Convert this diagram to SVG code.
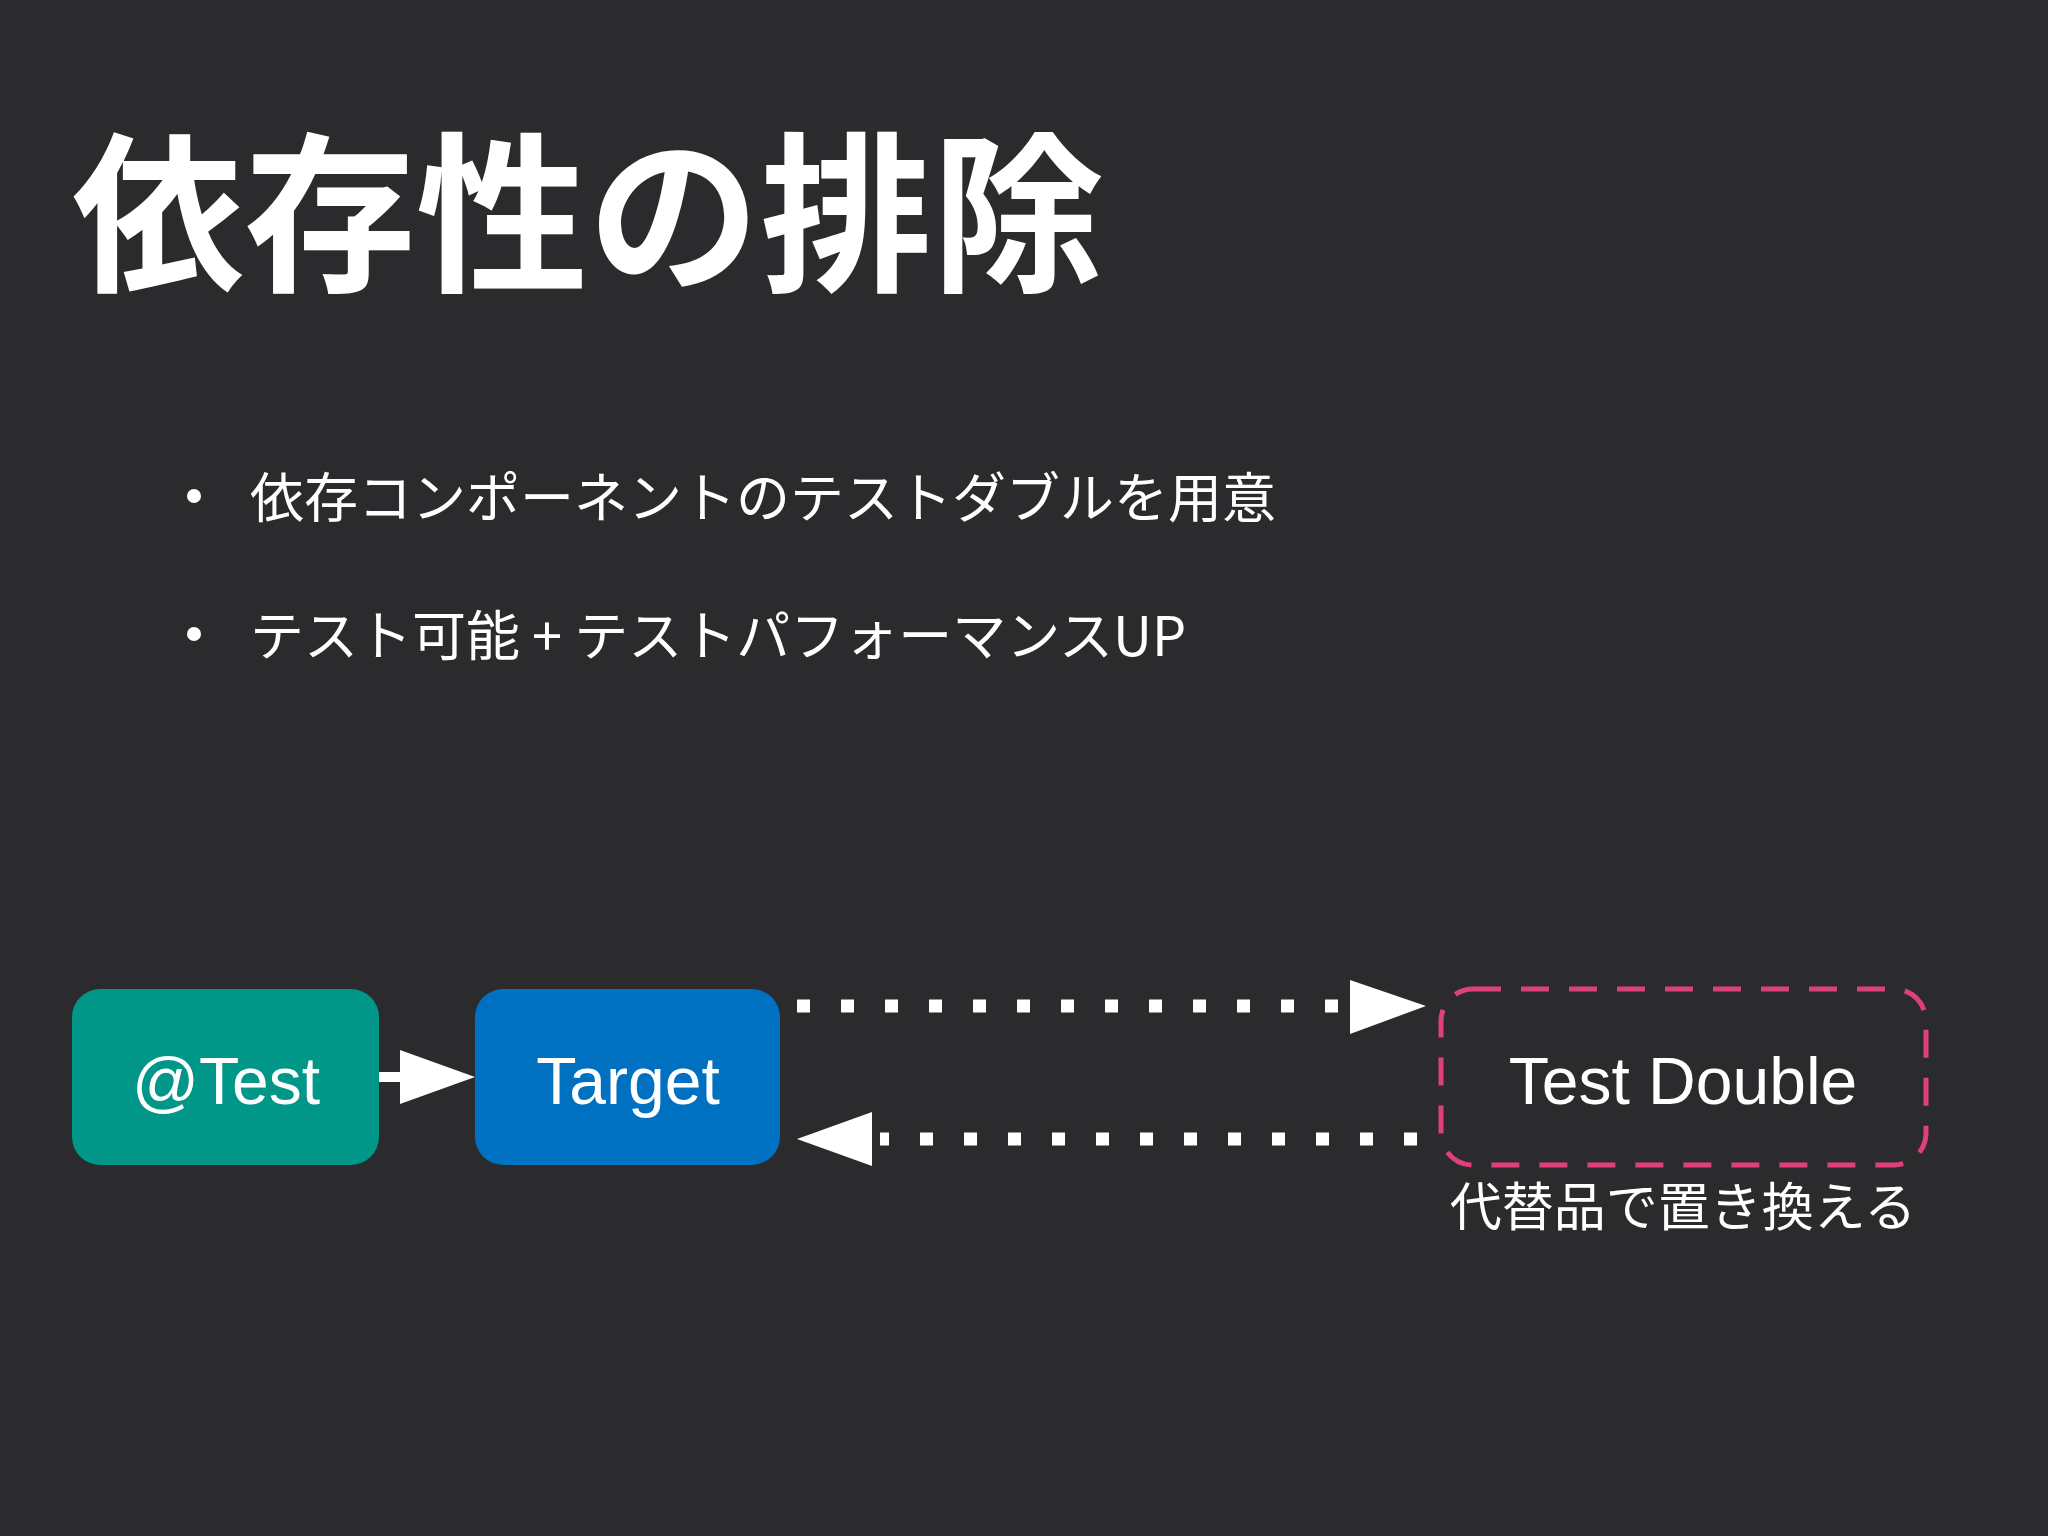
<svg xmlns="http://www.w3.org/2000/svg" width="2048" height="1536" viewBox="0 0 2048 1536">
<style>
.t{font-family:"Noto Sans CJK JP","Liberation Sans",sans-serif;fill:#fff}
.l{font-family:"Liberation Sans",Arial,sans-serif;fill:#fff;font-size:66px;text-anchor:middle}
.dot{stroke:#fff;stroke-width:13;stroke-dasharray:13 31;fill:none}
</style>
<rect width="2048" height="1536" fill="#2b2a2c"/>
<text class="t" x="72" y="278" font-size="172" font-weight="bold">依存性の排除</text>
<circle cx="194" cy="496" r="7" fill="#fff"/>
<text class="t" x="250" y="518" font-size="54">依存コンポーネントのテストダブルを用意</text>
<circle cx="194" cy="634" r="7" fill="#fff"/>
<text class="t" x="250" y="656" font-size="54">テスト可能 + テストパフォーマンスUP</text>
<g id="test"><rect x="72" y="989" width="307" height="176" rx="28" fill="#009688"/><text class="l" x="226" y="1104">@Test</text></g>
<g id="target"><rect x="475" y="989" width="305" height="176" rx="28" fill="#0070c0"/><text class="l" x="628" y="1104">Target</text></g>
<g id="double"><rect x="1441" y="989" width="485" height="176" rx="32" fill="none" stroke="#e0407a" stroke-width="5" stroke-dasharray="28 20"/><text class="l" x="1683" y="1104">Test Double</text></g>
<text class="t" x="1683" y="1226" font-size="52" text-anchor="middle">代替品で置き換える</text>
<g id="connectors">
<line x1="379" y1="1077" x2="405" y2="1077" stroke="#fff" stroke-width="10"/>
<polygon points="400,1050 475,1077 400,1104" fill="#fff"/>
<line class="dot" x1="797" y1="1006" x2="1352" y2="1006"/>
<polygon points="1350,980 1426,1006 1350,1034" fill="#fff"/>
<line class="dot" x1="1417" y1="1139" x2="880" y2="1139"/>
<polygon points="872,1112 797,1139 872,1166" fill="#fff"/>
</g>
</svg>
